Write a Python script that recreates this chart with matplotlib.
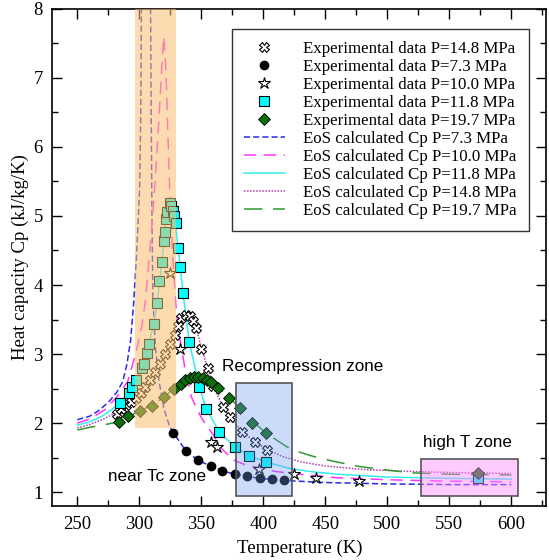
import matplotlib
matplotlib.use('Agg')
import matplotlib.pyplot as plt
from matplotlib.patches import Rectangle
from matplotlib.ticker import MultipleLocator

plt.rcParams['font.family'] = ['Liberation Serif', 'DejaVu Serif']

# experimental data
T_73 = [327, 337.5, 347.5, 357.5, 367, 377, 387, 397, 407, 417]
cp_73 = [1.86, 1.6, 1.46, 1.38, 1.31, 1.26, 1.23, 1.2, 1.19, 1.18]

T_100 = [324.6, 332.6, 358.2, 362.3, 396.4, 424.4, 442.5, 477.2, 573]
cp_100 = [4.17, 3.07, 1.73, 1.66, 1.33, 1.26, 1.2, 1.16, 1.26]

T_118 = [284.2, 291.7, 294.4, 297.7, 302.5, 303.6, 306.2, 307.8, 311.6, 314.3,
         316.2, 318.3, 319.9, 320.5, 321.3, 322.7, 324.5, 325.9, 327.2, 328,
         329.6, 331.3, 332.9, 335.3, 340.3, 348.5, 353.8, 364.6, 376.8, 388.6,
         401.8, 573]
cp_118 = [2.29, 2.44, 2.52, 2.62, 2.8, 2.86, 3.02, 3.15, 3.44, 3.74,
          4.06, 4.33, 4.63, 4.77, 4.95, 5.05, 5.19, 5.14, 5.07, 5.0,
          4.9, 4.54, 4.26, 3.88, 3.17, 2.53, 2.21, 1.87, 1.66, 1.53,
          1.44, 1.2]

T_148 = [282, 285.5, 289, 293, 297, 301, 305, 309, 313, 317, 321, 325, 328.5,
         331, 334, 337.5, 340.5, 343.5, 346, 350, 355.5, 359.5, 367.6, 373,
         382.5, 393.2, 402.7, 573]
cp_148 = [2.13, 2.2, 2.26, 2.31, 2.36, 2.43, 2.52, 2.62, 2.74, 2.86, 3.0, 3.15,
          3.28, 3.4, 3.52, 3.57, 3.55, 3.48, 3.38, 3.07, 2.8, 2.54, 2.23, 2.09,
          1.87, 1.73, 1.61, 1.23]

T_197 = [283.6, 291, 300.3, 310.6, 320, 328, 334, 337, 340.5, 344, 347.5, 351,
         354.5, 357.5, 363.6, 372.5, 381.1, 390.5, 402.3, 573]
cp_197 = [2.02, 2.1, 2.17, 2.25, 2.38, 2.5, 2.57, 2.62, 2.65, 2.67, 2.67, 2.65,
          2.63, 2.6, 2.51, 2.37, 2.22, 2.0, 1.85, 1.28]

# EoS curves
eos_T_73 = [250, 260, 268, 276, 282, 286.6, 290, 293, 295.5, 298, 300.3, 301.2, 301.8,
            309, 309.6, 310.2, 311, 313, 316, 320, 324.5, 327.5, 337.5, 347.5, 357.5,
            367, 377, 387, 397, 417, 450, 500, 550, 600]
eos_cp_73 = [2.05, 2.1, 2.19, 2.32, 2.45, 2.6, 2.85, 3.2, 3.75, 4.5, 5.4, 6.5, 8.3,
             8.3, 6.5, 5.0, 3.8, 3.1, 2.6, 2.2, 1.95, 1.86, 1.6, 1.46, 1.38,
             1.31, 1.26, 1.23, 1.2, 1.17, 1.14, 1.12, 1.11, 1.11]

eos_T_100 = [250, 260, 272, 282, 290.6, 297, 302, 305, 309, 312.4, 315.5, 318, 319.7,
             321.5, 323, 324.5, 327, 329.5, 332, 336.6, 342, 347, 351.4, 360, 367,
             375.4, 385, 397, 410, 430, 460, 500, 550, 600]
eos_cp_100 = [2.0, 2.06, 2.19, 2.38, 2.6, 3.0, 3.4, 3.78, 4.6, 5.4, 6.3, 7.1, 7.6,
              7.1, 6.2, 5.4, 4.4, 3.7, 3.3, 2.82, 2.38, 2.18, 2.04, 1.82, 1.62,
              1.47, 1.4, 1.35, 1.3, 1.26, 1.21, 1.18, 1.16, 1.15]

eos_T_118 = [250, 260, 270, 278, 284, 291.7, 297.7, 303.6, 307.8, 311.6, 314.3, 318.3,
             320.5, 322.5, 324.5, 326.5, 328.5, 331.3, 335.3, 340.3, 348.5, 353.8,
             364.6, 376.8, 388.6, 401.8, 420, 437, 460, 500, 550, 600]
eos_cp_118 = [1.97, 2.02, 2.1, 2.2, 2.3, 2.44, 2.62, 2.86, 3.15, 3.44, 3.74, 4.33,
              4.77, 5.05, 5.22, 5.12, 4.95, 4.54, 3.88, 3.17, 2.53, 2.21,
              1.87, 1.66, 1.53, 1.44, 1.35, 1.3, 1.26, 1.22, 1.2, 1.19]

eos_T_148 = [250, 260, 270, 280, 290, 300, 310, 320, 328, 334, 338, 342, 346, 350,
             355, 360, 368, 375, 383, 393, 403, 415, 430, 450, 480, 520, 560, 600]
eos_cp_148 = [1.93, 1.98, 2.05, 2.14, 2.27, 2.41, 2.63, 2.95, 3.27, 3.52, 3.58, 3.5,
              3.36, 3.1, 2.8, 2.52, 2.22, 2.04, 1.88, 1.73, 1.62, 1.52, 1.44, 1.38,
              1.33, 1.3, 1.28, 1.27]

eos_T_197 = [250, 260, 270, 283.6, 291, 300, 310, 320, 328, 336, 344, 350, 357, 364,
             372, 381, 390, 402.6, 418.8, 425.5, 440, 456, 478, 500, 520, 550, 600]
eos_cp_197 = [1.9, 1.94, 1.97, 2.02, 2.1, 2.17, 2.26, 2.38, 2.5, 2.6, 2.67, 2.66,
              2.6, 2.51, 2.38, 2.22, 2.05, 1.85, 1.66, 1.6, 1.52, 1.45, 1.37, 1.32,
              1.28, 1.26, 1.25]

fig = plt.figure(figsize=(5.49, 5.6), dpi=100)
ax = fig.add_axes([0.0956, 0.0964, 0.899, 0.888])

# EoS lines
ax.plot(eos_T_73, eos_cp_73, color='#2a2aee', lw=1.1, ls=(0, (4, 2)),
        label='EoS calculated Cp P=7.3 MPa', zorder=2)
ax.plot(eos_T_100, eos_cp_100, color='#ff33ff', lw=1.1, ls=(0, (8, 5)),
        label='EoS calculated Cp P=10.0 MPa', zorder=2)
ax.plot(eos_T_118, eos_cp_118, color='#33eeee', lw=1.1, ls='-',
        label='EoS calculated Cp P=11.8 MPa', zorder=2)
ax.plot(eos_T_148, eos_cp_148, color='#b03cb0', lw=1.1, ls=(0, (1, 1)),
        label='EoS calculated Cp P=14.8 MPa', zorder=2)
ax.plot(eos_T_197, eos_cp_197, color='#2e9a2e', lw=1.1, ls=(0, (12, 7)),
        label='EoS calculated Cp P=19.7 MPa', zorder=2)

# experimental points
ax.plot(T_148, cp_148, ls='none', marker='X', ms=7, mfc='white', mec='black', mew=0.8,
        label='Experimental data P=14.8 MPa', zorder=3)
ax.plot(T_73, cp_73, ls='none', marker='o', ms=6, mfc='black', mec='black',
        label='Experimental data P=7.3 MPa', zorder=3)
ax.plot(T_100, cp_100, ls='none', marker='*', ms=9, mfc='white', mec='black', mew=0.8,
        label='Experimental data P=10.0 MPa', zorder=3)
ax.plot(T_118, cp_118, ls='none', marker='s', ms=6.5, mfc='#00ffff', mec='black', mew=0.8,
        label='Experimental data P=11.8 MPa', zorder=3)
ax.plot(T_197, cp_197, ls='none', marker='D', ms=6.5, mfc='#0a6e0a', mec='black', mew=0.6,
        label='Experimental data P=19.7 MPa', zorder=3)

# highlighted zones
ax.add_patch(Rectangle((296.3, 1.93), 33.1, 6.2, facecolor='#fdbf6f', alpha=0.55,
                       edgecolor='none', zorder=4))
ax.add_patch(Rectangle((378, 0.94), 45, 1.64, facecolor=(0.435, 0.596, 0.933, 0.35),
                       edgecolor='#555555', lw=1.2, zorder=4))
ax.add_patch(Rectangle((527.3, 0.94), 78.3, 0.54, facecolor=(1.0, 0.55, 1.0, 0.45),
                       edgecolor='#555555', lw=1.2, zorder=4))

sans = ['Liberation Sans', 'DejaVu Sans']
ax.text(431.5, 2.82, 'Recompression zone', family=sans, fontsize=12.3,
        ha='center', va='center', zorder=5)
ax.text(314.5, 1.23, 'near Tc zone', family=sans, fontsize=12.3,
        ha='center', va='center', zorder=5)
ax.text(565, 1.72, 'high T zone', family=sans, fontsize=12.3,
        ha='center', va='center', zorder=5)

ax.set_xlim(230, 628)
ax.set_ylim(0.8, 8)
ax.xaxis.set_major_locator(MultipleLocator(50))
ax.xaxis.set_minor_locator(MultipleLocator(25))
ax.yaxis.set_major_locator(MultipleLocator(1))
ax.yaxis.set_minor_locator(MultipleLocator(0.5))
ax.tick_params(which='both', direction='in', top=True, right=True, labelsize=13.5)
ax.tick_params(which='major', length=7, width=1, pad=7)
ax.tick_params(which='minor', length=4, width=1)
for s in ax.spines.values():
    s.set_linewidth(1.2)
ax.set_xlabel('Temperature (K)', fontsize=13.5, labelpad=5)
ax.set_ylabel('Heat capacity Cp (kJ/kg/K)', fontsize=13.5, labelpad=3)

handles, labels = ax.get_legend_handles_labels()
order = [5, 6, 7, 8, 9, 0, 1, 2, 3, 4]
leg = ax.legend([handles[i] for i in order], [labels[i] for i in order],
                loc='upper right', bbox_to_anchor=(0.982, 0.977), fontsize=12.2,
                frameon=True, fancybox=False, framealpha=1, edgecolor='#333333',
                labelspacing=0.12, handlelength=2.4, handletextpad=1.1,
                borderpad=0.7)
leg.get_frame().set_linewidth(1.0)

fig.savefig('out.png', dpi=100)
